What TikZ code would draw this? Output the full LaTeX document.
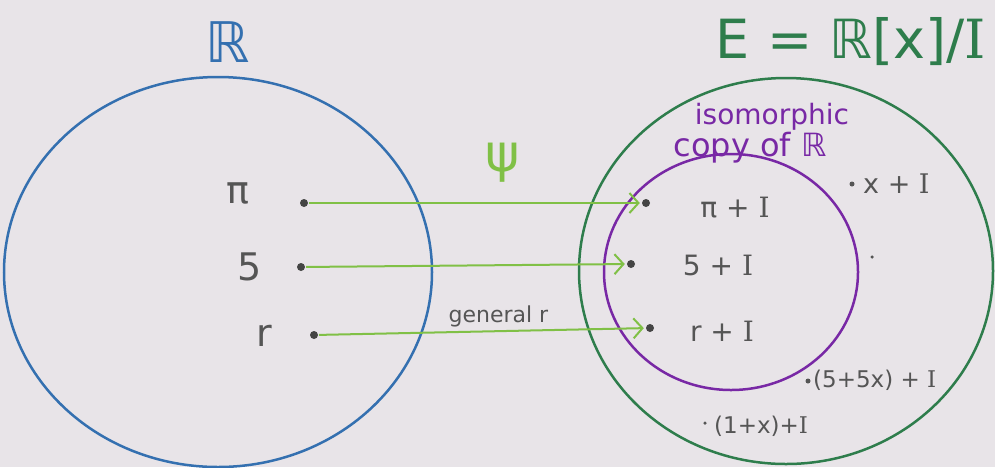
\documentclass[tikz,border=0pt]{standalone}
\usepackage{fontspec}
\setmainfont{DejaVu Sans}
\newfontfamily\serifI{DejaVu Serif}
\usetikzlibrary{arrows.meta}
\definecolor{paper}{RGB}{232,228,232}
\definecolor{rblue}{RGB}{52,112,176}
\definecolor{egreen}{RGB}{46,125,76}
\definecolor{ipurple}{RGB}{120,40,165}
\definecolor{agreen}{RGB}{128,192,70}
\definecolor{pencil}{RGB}{85,85,85}
\newcommand{\cI}{{\serifI I}}
\tikzset{
  setring/.style={draw, line width=2.5pt},
  pt/.style={circle, fill=pencil!80!black, inner sep=0pt, minimum size=8pt},
  tinypt/.style={circle, fill=pencil, inner sep=0pt, minimum size=5pt},
  maparrow/.style={draw=agreen, line width=2pt, -{Straight Barb[length=9pt,width=20pt,line width=2pt]}, shorten >=2pt, shorten <=1pt},
  lbl/.style={text=pencil, inner sep=1pt},
}
\begin{document}
\begin{tikzpicture}[x=1pt,y=-1pt]
\fill[paper] (0,0) rectangle (995,467);
\useasboundingbox (0,0) rectangle (995,467);
% sets
\draw[setring, rblue] (218,272) ellipse [x radius=214, y radius=195];
\draw[setring, egreen] (786,271) ellipse [x radius=207, y radius=193];
\draw[setring, ipurple] (731,272) ellipse [x radius=127, y radius=118];
% titles
\node[text=rblue, font=\fontsize{56}{60}\selectfont] (R) at (228,42) {ℝ};
\node[text=egreen, font=\fontsize{54}{58}\selectfont] (E) at (851,42) {E = ℝ[x]/\cI};
\node[text=ipurple, font=\fontsize{28}{32}\selectfont] (iso1) at (772,117) {isomorphic};
\node[text=ipurple, font=\fontsize{32}{36}\selectfont] (iso2) at (750,148) {copy of ℝ};
\node[text=agreen, font=\fontsize{52}{56}\selectfont] (psi) at (503,163) {ψ};
% left elements
\node[lbl, font=\fontsize{38}{42}\selectfont] (lpi) at (238,193) {π};
\node[lbl, font=\fontsize{38}{42}\selectfont] (l5) at (250,267) {5};
\node[lbl, font=\fontsize{38}{42}\selectfont] (lr) at (264,336) {r};
\node[pt] (dpi) at (304,203) {};
\node[pt] (d5) at (301,267) {};
\node[pt] (dr) at (314,335) {};
% right elements
\node[pt] (epi) at (646,203) {};
\node[pt] (e5) at (631,264) {};
\node[pt] (er) at (650,328) {};
\node[lbl, font=\fontsize{28}{32}\selectfont] (rpi) at (735,208) {π + \cI};
\node[lbl, font=\fontsize{28}{32}\selectfont] (r5) at (718,265) {5 + \cI};
\node[lbl, font=\fontsize{28}{32}\selectfont] (rr) at (722,331) {r + \cI};
% arrows
\draw[maparrow] (dpi) -- (epi);
\draw[maparrow] (d5) -- (e5);
\draw[maparrow] (dr) -- node[lbl, above=2pt, pos=0.55, font=\fontsize{22}{26}\selectfont] (gen) {general r} (er);
% other cosets
\node[tinypt] (dx) at (852,184) {};
\node[lbl, font=\fontsize{27}{30}\selectfont, anchor=west] (rx) at (862,184) {x + \cI};
\node[tinypt, minimum size=3.5pt] (dlone) at (872,257) {};
\node[tinypt] (d55) at (808,381) {};
\node[lbl, font=\fontsize{23}{26}\selectfont, anchor=west] (r55) at (812,380) {(5+5x) + \cI};
\node[tinypt, minimum size=3.5pt] (d1x) at (705,423) {};
\node[lbl, font=\fontsize{23}{26}\selectfont, anchor=west] (r1x) at (713,426) {(1+x)+\cI};
\end{tikzpicture}
\end{document}
